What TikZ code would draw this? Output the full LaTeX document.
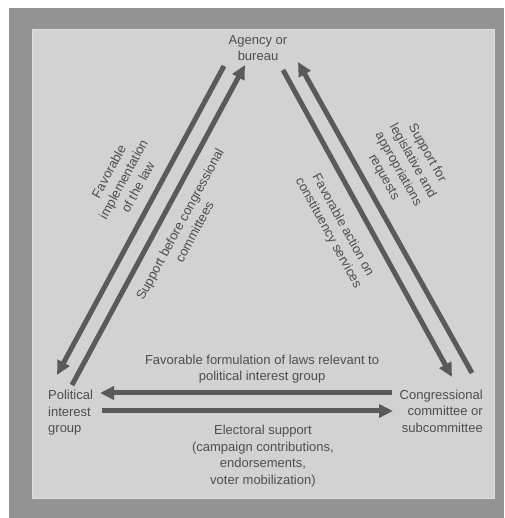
\documentclass[tikz,border=0pt]{standalone}
\usepackage{fontspec}
\setmainfont{Liberation Sans}
\usepackage{xcolor}
\usepackage{tikz}
\usetikzlibrary{arrows.meta}

\definecolor{framegray}{HTML}{939393}
\definecolor{panelgray}{HTML}{D2D2D2}
\definecolor{arrowgray}{HTML}{5A5A5A}
\definecolor{inkgray}{HTML}{4E4E4E}

\begin{document}
\begin{tikzpicture}[
  x=1pt, y=1pt,
  font=\fontsize{13}{16.5}\selectfont,
  >={Triangle[length=14pt,width=13pt]},
  actor/.style={text=inkgray, inner sep=1pt},
  link/.style={->, line width=5pt, draw=arrowgray},
  lbl/.style={text=inkgray, align=center, inner sep=1pt, sloped}
]
\useasboundingbox (0,0) rectangle (504,518);
\fill[framegray] (9,0) rectangle (504,510);
\filldraw[fill=panelgray, draw=gray!25, line width=1pt] (32,19) rectangle (494,488);

\node[actor, align=center] (agency) at (258,470) {Agency or\\bureau};
\node[actor, align=left, anchor=west] (group) at (47,105) {Political\\interest\\group};
\node[actor, align=right, anchor=east] (cong) at (484,107) {Congressional\\committee or\\subcommittee};

% free ends of the arrows
\coordinate (agA) at (224,452);  \coordinate (grA) at (57,143);
\coordinate (grB) at (72,133);   \coordinate (agB) at (245,453);
\coordinate (agC) at (283,448);  \coordinate (cgC) at (452,141);
\coordinate (cgD) at (472,145);  \coordinate (agD) at (298,456);
\coordinate (cgE) at (392,125);  \coordinate (grE) at (100,125);
\coordinate (grF) at (102,107);  \coordinate (cgF) at (393,107);

\draw[link] (agA) -- node[lbl, pos=.42, above=10pt] {Favorable\\implementation\\of the law} (grA);
\draw[link] (grB) -- node[lbl, pos=.53, below=10pt] {Support before congressional\\committees} (agB);
\draw[link] (agC) -- node[lbl, pos=.47, below=13pt] {Favorable action on\\constituency services} (cgC);
\draw[link] (cgD) -- node[lbl, pos=.6, above=9pt] {Support for\\legislative and\\appropriations\\requests} (agD);
\draw[link] (cgE) -- node[lbl, pos=.445, above=6pt] {Favorable formulation of laws relevant to\\political interest group} (grE);
\draw[link] (grF) -- node[lbl, pos=.553, below=11pt] {Electoral support\\(campaign contributions,\\endorsements,\\voter mobilization)} (cgF);
\end{tikzpicture}
\end{document}
